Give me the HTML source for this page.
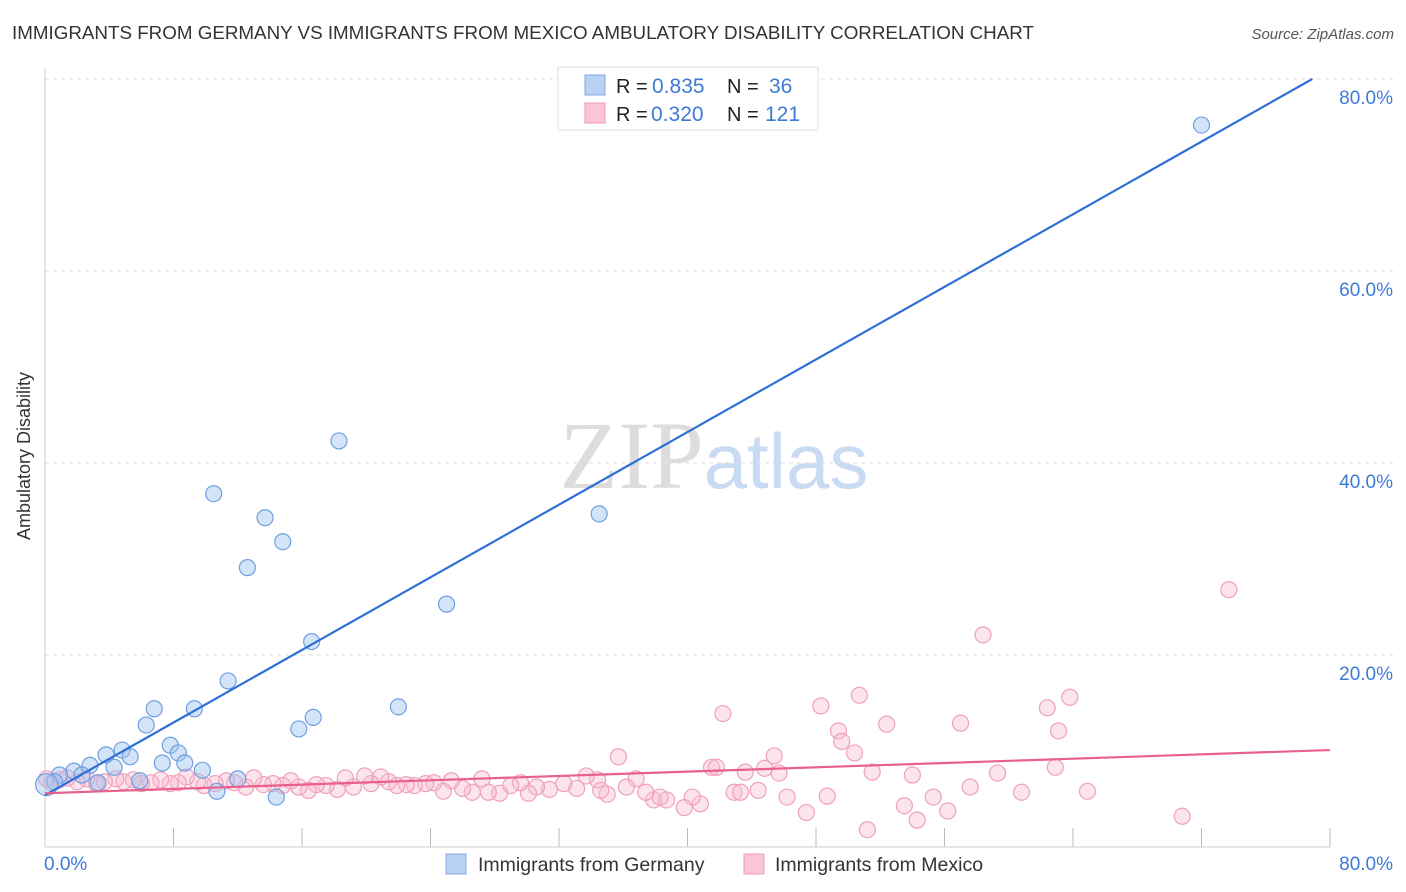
<!DOCTYPE html>
<html><head><meta charset="utf-8"><style>
body{margin:0;background:#fff;font-family:"Liberation Sans",sans-serif}
svg{display:block}
</style></head><body>
<svg id="c" width="1406" height="892" xmlns="http://www.w3.org/2000/svg">
<text x="12" y="39" font-size="18.8" fill="#333">IMMIGRANTS FROM GERMANY VS IMMIGRANTS FROM MEXICO AMBULATORY DISABILITY CORRELATION CHART</text>
<text x="1394" y="39" font-size="15" fill="#555" font-style="italic" text-anchor="end">Source: ZipAtlas.com</text>
<text x="714" y="488" font-size="96" fill="#ddd" text-anchor="middle" font-family="Liberation Serif,serif">ZIP<tspan fill="#c9dbf3" font-family="Liberation Sans,sans-serif" font-size="78">atlas</tspan></text>
<g id="grid"></g>
<line x1="45" y1="68" x2="45" y2="847" stroke="#ccc"/>
<line x1="45" y1="847" x2="1330" y2="847" stroke="#ccc"/>
<text x="30" y="456" font-size="18" fill="#333" text-anchor="middle" transform="rotate(-90 30 456)">Ambulatory Disability</text>
<text x="44" y="870" font-size="19" fill="#3d7ad6">0.0%</text>
<text x="1393" y="870" font-size="19" fill="#3d7ad6" text-anchor="end">80.0%</text>
<g id="pts"></g>
<g id="lines"></g>
<g>
<rect x="558" y="67" width="260" height="63" fill="#fff" stroke="#ddd"/>
<rect x="585" y="75" width="20" height="20" fill="#b9d1f3" stroke="#7da9e6"/>
<rect x="585" y="103" width="20" height="20" fill="#fac6d5" stroke="#ee9ab5"/>
<text x="616" y="93" font-size="20" fill="#222">R = <tspan x="652" fill="#3d7ad6" font-size="21">0.835</tspan><tspan x="727">N = </tspan><tspan x="769" fill="#3d7ad6" font-size="21">36</tspan></text>
<text x="616" y="121" font-size="20" fill="#222">R = <tspan x="651" fill="#3d7ad6" font-size="21">0.320</tspan><tspan x="727">N = </tspan><tspan x="765" fill="#3d7ad6" font-size="21">121</tspan></text>
</g>
<g>
<rect x="446" y="854" width="20" height="20" fill="#b9d1f3" stroke="#7da9e6"/>
<text x="478" y="871" font-size="19.5" fill="#333">Immigrants from Germany</text>
<rect x="744" y="854" width="20" height="20" fill="#fac6d5" stroke="#ee9ab5"/>
<text x="775" y="871" font-size="19.5" fill="#333">Immigrants from Mexico</text>
</g>
</svg>
<script>
const yTicks=[20,40,60,80];
const xTicks=[0,8,16,24,32,40,48,56,64,72,80];
const germanyX=[72.0,18.3,10.5,13.7,34.5,14.8,12.6,25.0,16.6,11.4,6.8,9.3,22.0,16.7,6.3,15.8,7.8,4.8,3.8,8.3,5.3,7.3,8.7,2.8,4.3,1.8,0.9,2.3,9.8,12.0,5.9,3.3,0.6,10.7,14.4,0.1];
const germanyY=[75.2,42.3,36.8,34.3,34.7,31.8,29.1,25.3,21.4,17.3,14.4,14.4,14.6,13.5,12.7,12.3,10.6,10.1,9.6,9.8,9.4,8.75,8.75,8.5,8.3,7.9,7.5,7.5,8.0,7.1,6.9,6.7,6.8,5.8,5.2,6.5];
const mexicoX=[73.7,58.4,50.7,63.8,48.3,42.2,52.4,57.0,62.4,49.4,63.1,49.6,50.4,35.7,45.4,41.5,41.8,44.8,62.9,51.5,54.0,59.3,45.7,43.6,57.6,60.8,64.9,70.8,55.3,56.2,53.5,54.3,51.2,48.7,47.4,46.2,44.4,42.9,43.3,40.8,40.3,39.8,38.7,37.9,38.3,37.4,36.8,36.2,35.0,34.6,34.4,33.7,33.1,32.3,31.4,30.6,30.1,29.6,29.0,28.3,27.6,27.2,26.6,26.0,25.3,24.8,24.2,23.7,23.0,22.5,21.9,21.4,20.9,20.3,19.9,19.2,18.7,18.2,17.5,16.9,16.4,15.8,15.3,14.8,14.2,13.6,13.0,12.5,11.8,11.3,10.6,9.9,9.5,8.8,8.3,7.8,7.2,6.6,6.0,5.5,4.9,4.4,3.7,3.2,2.6,2.0,1.4,0.9,0.4,0.1];
const mexicoY=[26.8,22.1,15.8,15.6,14.7,13.9,12.8,12.9,14.5,12.1,12.1,11.0,9.8,9.4,9.5,8.3,8.3,8.2,8.3,7.8,7.5,7.7,7.7,7.8,6.25,5.7,5.8,3.2,5.2,3.75,4.3,2.8,1.8,5.3,3.6,5.2,5.9,5.7,5.7,4.5,5.2,4.1,4.9,4.9,5.2,5.7,7.1,6.25,5.5,5.9,7.0,7.4,6.1,6.6,6.0,6.25,5.6,6.7,6.4,5.6,5.7,7.1,5.7,6.1,6.9,5.8,6.7,6.6,6.4,6.5,6.4,6.8,7.3,6.6,7.4,6.25,7.2,6.0,6.4,6.5,5.9,6.25,6.9,6.4,6.6,6.5,7.2,6.25,6.7,6.9,6.6,6.4,6.8,7.3,6.7,6.6,7.0,6.7,6.6,7.0,6.8,7.1,6.8,6.6,7.1,6.8,7.2,7.0,6.7,7.1];
const germanyTrend=[[0,5.4],[78.9,80]];
const mexicoTrend=[[0,5.6],[80,10.1]];
const NS='http://www.w3.org/2000/svg';
const sx=v=>45+v/80*1285, sy=v=>847-v*9.6;
function mk(t,a,p){const e=document.createElementNS(NS,t);for(const k in a)e.setAttribute(k,a[k]);p.appendChild(e);return e;}
const grid=document.getElementById('grid');
yTicks.forEach(t=>{
 const l=mk('line',{x1:45,x2:1393,y1:sy(t),y2:sy(t),stroke:'#ddd','stroke-dasharray':'4 4'},grid);
 
 
 const tx=mk('text',{x:1393,y:sy(t)+25,'font-size':19,fill:'#3d7ad6','text-anchor':'end'},grid);
 tx.textContent=t.toFixed(1)+'%';
 
 
});
xTicks.forEach(t=>{
 const l=mk('line',{x1:sx(t),x2:sx(t),y1:828,y2:847,stroke:'#bbb'},grid);
 
 
});
const pts=document.getElementById('pts');
mexicoX.forEach((x,i)=>{
 const c=mk('circle',{cx:sx(x),cy:sy(mexicoY[i]),r:8,fill:'rgba(248,188,207,0.4)',stroke:'#f0a0bb','stroke-width':1.2},pts);
 
 
});
germanyX.forEach((x,i)=>{
 const c=mk('circle',{cx:sx(x),cy:sy(germanyY[i]),r:i==35?11:8,fill:'rgba(160,196,240,0.45)',stroke:'#6f9fe0','stroke-width':1.2},pts);
 
 
});
const lines=document.getElementById('lines');
const g=mk('line',{x1:sx(germanyTrend[0][0]),y1:sy(germanyTrend[0][1]),x2:sx(germanyTrend[1][0]),y2:sy(germanyTrend[1][1]),stroke:'#2f6fd6','stroke-width':2.2},lines);


const m=mk('line',{x1:sx(mexicoTrend[0][0]),y1:sy(mexicoTrend[0][1]),x2:sx(mexicoTrend[1][0]),y2:sy(mexicoTrend[1][1]),stroke:'#e8608e','stroke-width':2.2},lines);


</script>
</body></html>
